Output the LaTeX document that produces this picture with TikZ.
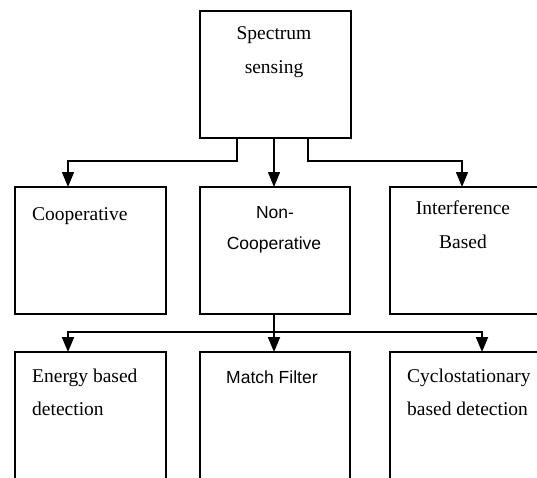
\documentclass[tikz,border=0pt]{standalone}
\usepackage{fontspec}
\setmainfont{Liberation Serif}
\newfontfamily\sansf{Liberation Sans}
\usetikzlibrary{arrows.meta}
\begin{document}
\begin{tikzpicture}[x=1pt,y=-1pt,
  box/.style={draw=black,line width=1.2pt,minimum width=#1,anchor=north west,inner sep=0pt,outer sep=0pt},
  lowbox/.style={box=#1,line width=1.5pt},
  link/.style={draw=black,line width=1.4pt},
  tip/.style={-{Triangle[length=15pt,width=12pt]}},
  lbl/.style={inner sep=0pt,font=\fontsize{19.5}{24}\selectfont},
  slbl/.style={inner sep=0pt,font=\sansf\fontsize{17.5}{22}\selectfont}]
\useasboundingbox (0,0) rectangle (537,477);
\clip (0,0) rectangle (537,477);
\fill[white] (0,0) rectangle (537,477);
% boxes
\node[box=151pt,minimum height=127pt] (top) at (200,11) {};
\node[box=151pt,minimum height=127pt] (coop) at (15,187) {};
\node[box=150pt,minimum height=127pt] (noncoop) at (200,187) {};
\node[box=160pt,minimum height=127pt] (interf) at (390,187) {};
\node[lowbox=151pt,minimum height=140pt] (energy) at (15,352) {};
\node[lowbox=150pt,minimum height=140pt] (match) at (200,352) {};
\node[lowbox=160pt,minimum height=140pt] (cyclo) at (390,352) {};
% texts
\node[lbl,anchor=base] (t1) at (274,39) {Spectrum};
\node[lbl,anchor=base] (t2) at (274,73) {sensing};
\node[lbl,anchor=base west] (t3) at (32,220) {Cooperative};
\node[slbl,anchor=base] (t4) at (275,218) {Non-};
\node[slbl,anchor=base] (t5) at (274,249) {Cooperative};
\node[lbl,anchor=base] (t6) at (463,214) {Interference};
\node[lbl,anchor=base] (t7) at (463,248) {Based};
\node[lbl,anchor=base west] (t8) at (32,382) {Energy based};
\node[lbl,anchor=base west] (t9) at (32,415) {detection};
\node[slbl,anchor=base west] (t10) at (226,383) {Match Filter};
\node[lbl,anchor=base west] (t11) at (407,382) {Cyclostationary};
\node[lbl,anchor=base west] (t12) at (407,415) {based detection};
% first level connectors
\path[link,tip] ([xshift=-38.5pt]top.south) -- ++(0,23) -| ([xshift=-22.5pt]coop.north);
\path[link,tip] ([xshift=-1.5pt]top.south) -- ([xshift=-1pt]noncoop.north);
\path[link,tip] ([xshift=32.5pt]top.south) -- ++(0,23) -| ([xshift=-8pt]interf.north);
% second level connectors
\coordinate (hub) at ([xshift=-1pt,yshift=-18pt]noncoop.south);
\path[link] ([xshift=-1pt]noncoop.south) -- (hub);
\path[link,line width=2pt,tip] (hub) -| ([xshift=-22.5pt]energy.north);
\path[link,line width=2pt,tip] (hub) -| ([xshift=-1pt]match.north);
\path[link,line width=2pt,tip] (hub) -| ([xshift=12pt]cyclo.north);
\end{tikzpicture}
\end{document}
